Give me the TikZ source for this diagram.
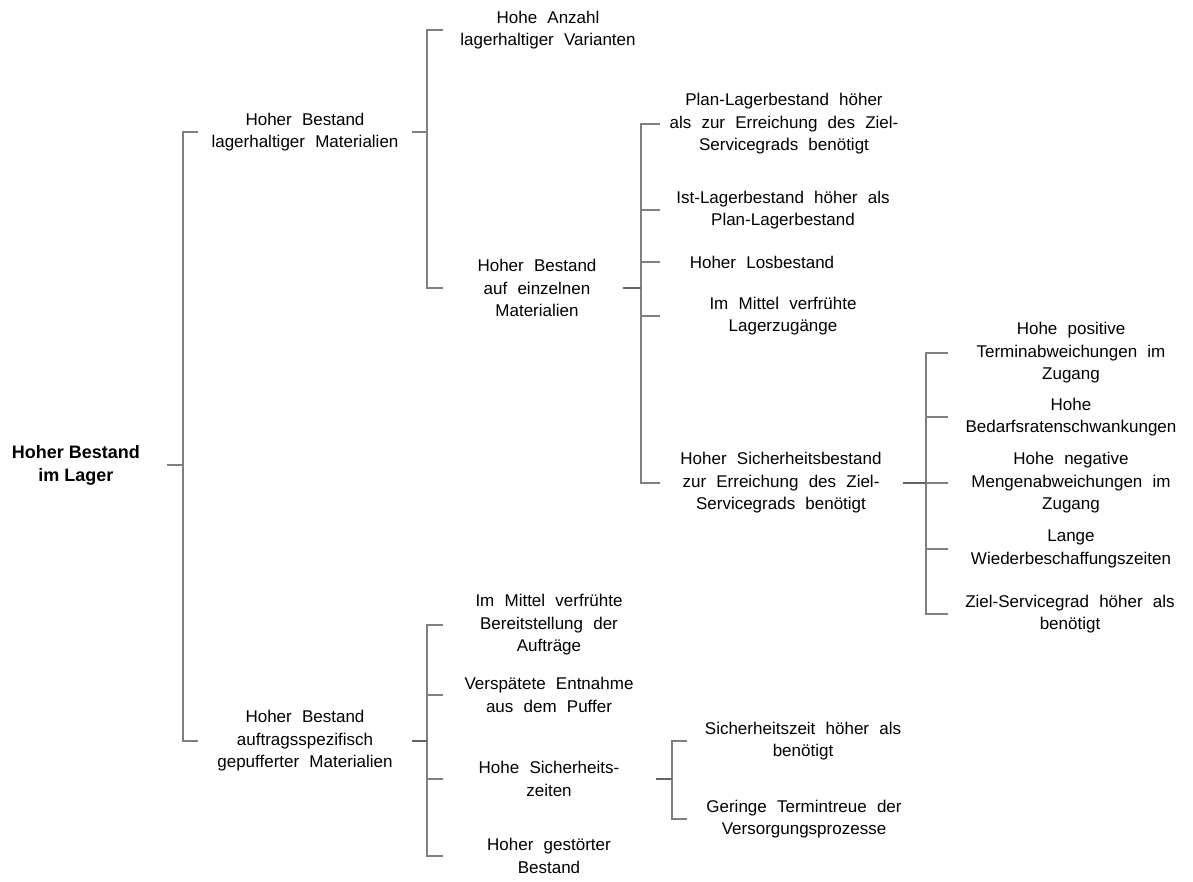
\documentclass[tikz,border=0pt]{standalone}
\usepackage{fontspec}
\setmainfont{Liberation Sans}
\definecolor{linegray}{RGB}{128,128,128}
\definecolor{stubgray}{RGB}{100,100,100}
% body text: 17pt with widened word spaces
\newcommand\labelfont{\fontsize{17}{22.5}\selectfont\spaceskip=0.6em plus 0.1em\relax}
\begin{document}
\begin{tikzpicture}[x=1pt,y=-1pt,
  txt/.style={align=center,inner sep=0pt,text=black,font=\labelfont},
  rootbox/.style={align=center,inner sep=0pt,text=black,
    font=\fontsize{18}{23}\selectfont\bfseries},
  link/.style={draw=linegray,line width=1.3pt},
  stub/.style={draw=stubgray,line width=2.8pt}]
\useasboundingbox[fill=white] (0,0) rectangle (1193,881);

% ---- text nodes ----
\node[rootbox] (root) at (76,465) {Hoher Bestand\\im Lager};

\node[txt] (a) at (305,132) {Hoher Bestand\\lagerhaltiger Materialien};
\node[txt] (b) at (305,741) {Hoher Bestand\\auftragsspezifisch\\gepufferter Materialien};

\node[txt] (a1) at (548,30) {Hohe Anzahl\\lagerhaltiger Varianten};
\node[txt] (a2) at (537,288) {Hoher Bestand\\auf einzelnen\\Materialien};

\node[txt] (a21) at (784,124) {Plan-Lagerbestand höher\\als zur Erreichung des Ziel-\\Servicegrads benötigt};
\node[txt] (a22) at (783,210) {Ist-Lagerbestand höher als\\Plan-Lagerbestand};
\node[txt] (a23) at (762,262) {Hoher Losbestand};
\node[txt] (a24) at (783,316) {Im Mittel verfrühte\\Lagerzugänge};
\node[txt] (a25) at (781,483) {Hoher Sicherheitsbestand\\zur Erreichung des Ziel-\\Servicegrads benötigt};

\node[txt] (a251) at (1071,353) {Hohe positive\\Terminabweichungen im\\Zugang};
\node[txt] (a252) at (1071,417) {Hohe\\Bedarfsratenschwankungen};
\node[txt] (a253) at (1071,483) {Hohe negative\\Mengenabweichungen im\\Zugang};
\node[txt] (a254) at (1071,549) {Lange\\Wiederbeschaffungszeiten};
\node[txt] (a255) at (1070,614) {Ziel-Servicegrad höher als\\benötigt};

\node[txt] (b1) at (549,625) {Im Mittel verfrühte\\Bereitstellung der\\Aufträge};
\node[txt] (b2) at (549,695) {Verspätete Entnahme\\aus dem Puffer};
\node[txt] (b3) at (549,779) {Hohe Sicherheits-\\zeiten};
\node[txt] (b4) at (549,856) {Hoher gestörter\\Bestand};

\node[txt] (b31) at (803,741) {Sicherheitszeit höher als\\benötigt};
\node[txt] (b32) at (804,819) {Geringe Termintreue der\\Versorgungsprozesse};

% ---- bracket columns: stub start, spine, branch end ----
\coordinate (rS) at (167,0);  \coordinate (rJ) at (183,0);  \coordinate (rE) at (198,0);
\coordinate (aS) at (412,0);  \coordinate (aJ) at (427,0);  \coordinate (aE) at (443,0);
\coordinate (a2S) at (623,0); \coordinate (a2J) at (641,0); \coordinate (a2E) at (660,0);
\coordinate (a25S) at (903,0);\coordinate (a25J) at (926,0);\coordinate (a25E) at (948,0);
\coordinate (bS) at (412,0);  \coordinate (bJ) at (427,0);  \coordinate (bE) at (443,0);
\coordinate (b3S) at (656,0); \coordinate (b3J) at (672,0); \coordinate (b3E) at (687,0);

% root
\draw[link] (root -| rS) -- (root -| rJ);
\foreach \c in {a,b} \draw[link] (root -| rJ) |- (\c -| rE);

% lagerhaltige Materialien
\draw[link] (a -| aS) -- (a -| aJ);
\foreach \c in {a1,a2} \draw[link] (a -| aJ) |- (\c -| aE);

% einzelne Materialien
\foreach \c in {a21,a22,a23,a24,a25} \draw[link] (a2 -| a2J) |- (\c -| a2E);
\draw[stub] (a2 -| a2S) -- (a2 -| a2J);

% Sicherheitsbestand
\foreach \c in {a251,a252,a253,a254,a255} \draw[link] (a25 -| a25J) |- (\c -| a25E);
\draw[stub] (a25 -| a25S) -- (a25 -| a25J);

% auftragsspezifisch gepufferte Materialien
\foreach \c in {b1,b2,b3,b4} \draw[link] (b -| bJ) |- (\c -| bE);
\draw[stub] (b -| bS) -- (b -| bJ);

% Sicherheitszeiten
\foreach \c in {b31,b32} \draw[link] (b3 -| b3J) |- (\c -| b3E);
\draw[stub] (b3 -| b3S) -- (b3 -| b3J);
\end{tikzpicture}
\end{document}
